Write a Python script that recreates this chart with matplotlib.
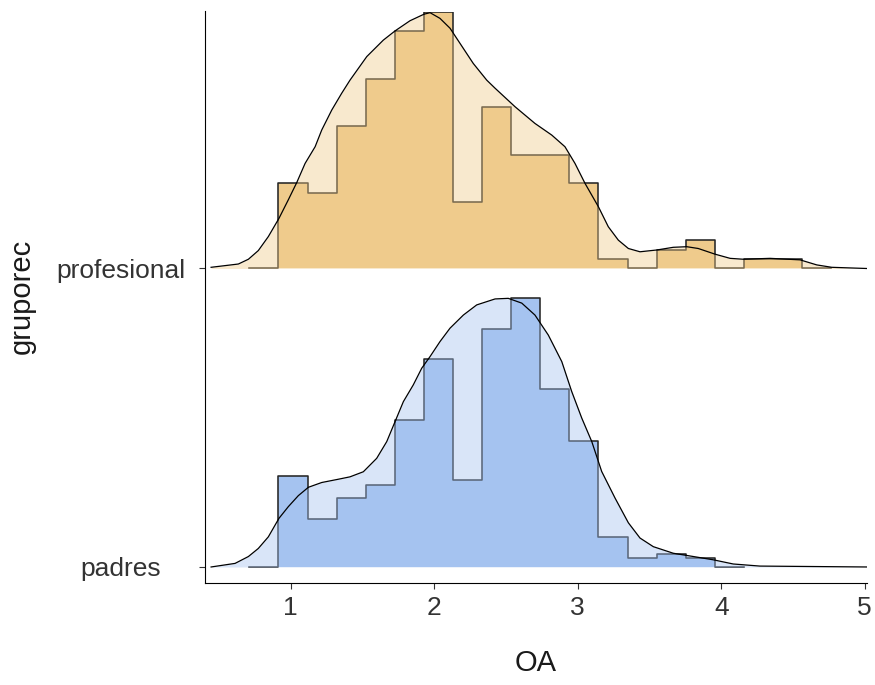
import numpy as np
import matplotlib
matplotlib.use("Agg")
import matplotlib.pyplot as plt

plt.rcParams["font.family"] = ["Liberation Sans", "DejaVu Sans"]

# Groups, bottom to top
groups = ["padres", "profesional"]

# Histogram bins (OA scale)
bin_start = 0.712
bin_width = 0.2027

# Counts per bin (first and last bins are empty padding)
counts_padres = [0, 21, 11, 16, 19, 34, 48, 20, 55, 62, 41, 29, 7, 2, 3, 2, 0]
counts_profesional = [0, 9, 8, 15, 20, 25, 27, 7, 17, 12, 12, 9, 1, 0, 2, 3, 0, 1, 1, 0]

# Smoothed density curves (x, scaled ridge height)
dens_x_padres = [0.445, 0.612, 0.705, 0.774, 0.844, 0.918, 0.983, 1.053, 1.123, 1.216,
                 1.332, 1.413, 1.506, 1.599, 1.669, 1.727, 1.785, 1.854, 1.913, 1.971,
                 2.040, 2.110, 2.203, 2.296, 2.424, 2.516, 2.610, 2.702, 2.795, 2.889,
                 2.958, 3.028, 3.098, 3.167, 3.260, 3.353, 3.434, 3.527, 3.666, 3.806,
                 3.945, 4.084, 4.270, 5.014]
dens_y_padres = [0.000, 0.012, 0.035, 0.062, 0.101, 0.163, 0.202, 0.239, 0.267, 0.283,
                 0.294, 0.302, 0.319, 0.364, 0.420, 0.487, 0.554, 0.610, 0.666, 0.705,
                 0.755, 0.800, 0.844, 0.878, 0.898, 0.900, 0.884, 0.844, 0.777, 0.688,
                 0.588, 0.499, 0.420, 0.320, 0.231, 0.148, 0.097, 0.068, 0.046, 0.035,
                 0.024, 0.010, 0.003, 0.000]

dens_x_profesional = [0.445, 0.635, 0.705, 0.774, 0.844, 0.918, 0.983, 1.042, 1.100, 1.170,
                      1.216, 1.286, 1.355, 1.413, 1.530, 1.645, 1.727, 1.831, 1.929, 1.971,
                      2.040, 2.110, 2.180, 2.272, 2.366, 2.424, 2.563, 2.702, 2.819, 2.911,
                      2.981, 3.051, 3.144, 3.213, 3.283, 3.353, 3.434, 3.551, 3.666, 3.760,
                      3.840, 3.957, 4.062, 4.154, 4.340, 4.549, 4.666, 4.770, 5.014]
dens_y_profesional = [0.004, 0.015, 0.031, 0.060, 0.107, 0.168, 0.230, 0.288, 0.352, 0.408,
                      0.464, 0.531, 0.587, 0.631, 0.710, 0.765, 0.796, 0.830, 0.852, 0.857,
                      0.838, 0.805, 0.754, 0.687, 0.631, 0.604, 0.542, 0.486, 0.447, 0.408,
                      0.352, 0.285, 0.207, 0.140, 0.095, 0.067, 0.056, 0.062, 0.071, 0.073,
                      0.067, 0.048, 0.034, 0.031, 0.034, 0.029, 0.012, 0.004, 0.000]

fill_colors = {"padres": "#A5C3F0", "profesional": "#EFCB8C"}
rel_height = 0.9  # tallest histogram bar, in ridge units

counts = {"padres": counts_padres, "profesional": counts_profesional}
dens = {"padres": (dens_x_padres, dens_y_padres),
        "profesional": (dens_x_profesional, dens_y_profesional)}

# histogram densities, scaled jointly so the tallest bar reaches rel_height
hist_density = {}
for g in groups:
    c = np.asarray(counts[g], dtype=float)
    hist_density[g] = c / (c.sum() * bin_width)
scale = rel_height / max(d.max() for d in hist_density.values())

fig = plt.figure(figsize=(8.75, 6.85), dpi=100)
ax = fig.add_axes([204.5 / 875, 102.5 / 685, 662.5 / 875, 571 / 685])

# draw top ridge first so lower ridges sit on top of it
for i, g in reversed(list(enumerate(groups))):
    base = i
    z = 2 + 3 * (1 - i)
    h = hist_density[g] * scale
    edges = bin_start + bin_width * np.arange(len(h) + 1)
    hy = base + np.append(h, h[-1])
    ax.fill_between(edges, base, hy, step="post", color=fill_colors[g], lw=0, zorder=z)
    ax.step(edges, hy, where="post", color="#262626", lw=1.15, zorder=z + 0.1)
    dx, dy = dens[g]
    dy = base + np.asarray(dy)
    ax.fill_between(dx, base, dy, color=fill_colors[g], alpha=0.42, lw=0, zorder=z + 0.2)
    ax.plot(dx, dy, color="black", lw=0.9, zorder=z + 0.3)

ax.set_xlim(0.399, 5.016)
ax.set_ylim(-0.052, 1.861)

ax.set_xticks([1, 2, 3, 4, 5])
ax.set_yticks(range(len(groups)))
ax.set_yticklabels(groups)

for side in ("top", "right"):
    ax.spines[side].set_visible(False)
for side in ("left", "bottom"):
    ax.spines[side].set_color("black")
    ax.spines[side].set_linewidth(0.8)

ax.tick_params(axis="both", color="#333333", width=0.8, length=4.5,
               labelsize=19, labelcolor="#333333")
ax.tick_params(axis="x", pad=5)
ax.tick_params(axis="y", pad=56)
for lab in ax.get_yticklabels():
    lab.set_horizontalalignment("center")

ax.set_xlabel("OA", fontsize=21, color="#1a1a1a")
ax.set_ylabel("gruporec", fontsize=21, color="#1a1a1a")
ax.xaxis.set_label_coords(0.5, (582.5 - 663) / 571)
ax.xaxis.label.set_verticalalignment("center")
ax.yaxis.set_label_coords((22 - 204.5) / 662.5, (582.5 - 296) / 571)
ax.yaxis.label.set_verticalalignment("center")

fig.savefig("out.png", dpi=100)
